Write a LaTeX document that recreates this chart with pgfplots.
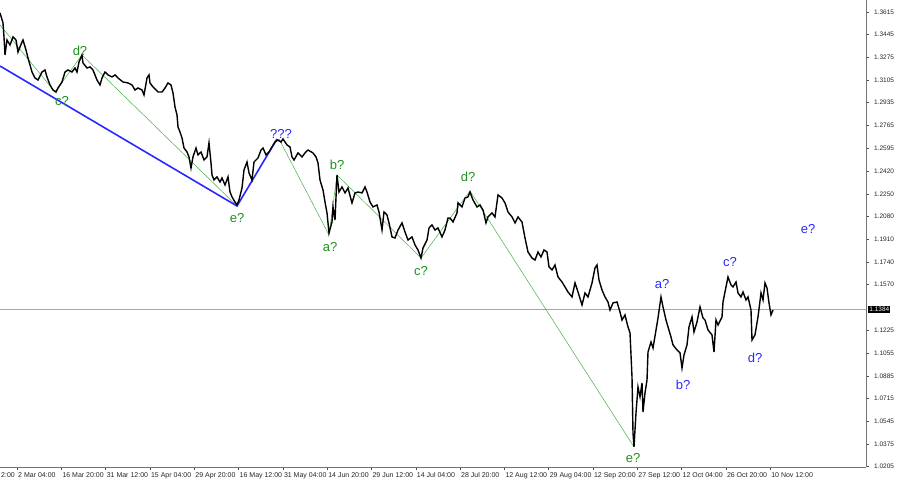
\documentclass[border=0pt]{standalone}
\usepackage{pgfplots}
\pgfplotsset{compat=1.18}
\usepackage{pgfplotstable}
\usepackage{fontspec}
\setmainfont{Liberation Sans}
\definecolor{wgreen}{RGB}{30,145,30}
\definecolor{lgreen}{RGB}{70,175,70}
\definecolor{wblue}{RGB}{40,40,255}
\pgfplotstableread{
x p
0 1.3608
3 1.3533
4 1.3428
5 1.3293
7 1.3405
10 1.3368
13 1.3428
16 1.3405
18 1.3315
22 1.3390
23 1.3405
26 1.3330
28 1.3270
30 1.3218
32 1.3165
35 1.3120
38 1.3105
42 1.3165
45 1.3180
47 1.3128
50 1.3068
53 1.3030
56 1.3015
58 1.3045
62 1.3090
65 1.3165
68 1.3180
72 1.3165
75 1.3195
77 1.3165
79 1.3240
82 1.3293
83 1.3233
87 1.3195
90 1.3203
93 1.3180
97 1.3105
100 1.3068
102 1.3120
105 1.3165
108 1.3143
112 1.3128
115 1.3143
118 1.3120
123 1.3090
128 1.3083
132 1.3068
135 1.3030
138 1.3045
142 1.3030
144 1.2993
147 1.3120
149 1.3143
150 1.3083
153 1.3053
158 1.3015
162 1.3015
165 1.3045
168 1.3083
171 1.3068
173 1.3008
175 1.2903
177 1.2843
178 1.2753
180 1.2715
182 1.2670
184 1.2595
187 1.2565
189 1.2528
191 1.2445
193 1.2528
196 1.2595
198 1.2543
201 1.2565
204 1.2505
207 1.2528
209 1.2633
211 1.2483
212 1.2393
214 1.2355
217 1.2378
220 1.2340
222 1.2370
225 1.2318
228 1.2378
230 1.2265
232 1.2228
235 1.2190
237 1.2168
239 1.2205
242 1.2295
244 1.2430
247 1.2490
249 1.2408
252 1.2355
254 1.2490
258 1.2520
261 1.2580
263 1.2595
266 1.2543
269 1.2565
272 1.2603
275 1.2640
278 1.2655
281 1.2640
283 1.2663
287 1.2618
290 1.2603
292 1.2528
294 1.2505
298 1.2558
302 1.2528
305 1.2558
308 1.2580
313 1.2558
316 1.2528
318 1.2483
320 1.2355
323 1.2280
325 1.2190
327 1.2108
329 1.1958
332 1.2040
333 1.2153
335 1.2055
337 1.2393
339 1.2265
342 1.2303
345 1.2258
348 1.2295
352 1.2183
355 1.2258
358 1.2265
362 1.2258
365 1.2303
367 1.2265
370 1.2190
373 1.2153
377 1.2168
379 1.2115
382 1.1980
384 1.2115
387 1.2093
389 1.2033
392 1.1928
395 1.1920
398 1.1980
402 1.2033
405 1.1965
408 1.1905
412 1.1928
415 1.1868
418 1.1830
421 1.1770
423 1.1845
427 1.1905
429 1.1995
432 1.2018
435 1.1980
438 1.1995
442 1.1928
445 1.1980
448 1.2070
450 1.2070
453 1.2040
457 1.2108
458 1.2183
462 1.2153
465 1.2220
468 1.2228
470 1.2265
473 1.2205
477 1.2153
480 1.2168
483 1.2130
486 1.2033
488 1.2078
492 1.2108
495 1.2078
498 1.2243
502 1.2220
505 1.2183
508 1.2115
512 1.2078
515 1.2033
518 1.2078
522 1.2040
525 1.1920
528 1.1815
532 1.1770
535 1.1755
538 1.1815
541 1.1778
544 1.1830
547 1.1815
549 1.1703
552 1.1680
555 1.1718
558 1.1628
562 1.1590
565 1.1553
568 1.1515
572 1.1478
575 1.1583
578 1.1515
582 1.1418
585 1.1508
588 1.1478
592 1.1583
595 1.1695
597 1.1718
599 1.1605
602 1.1530
605 1.1478
608 1.1440
610 1.1380
613 1.1433
617 1.1440
620 1.1365
622 1.1305
625 1.1343
628 1.1253
630 1.1208
632 1.0878
633 1.0458
634 1.0353
636 1.0608
638 1.0803
640 1.0728
642 1.0833
643 1.0615
645 1.0758
647 1.0855
648 1.1065
651 1.1140
653 1.1095
656 1.1230
658 1.1320
661 1.1478
663 1.1403
666 1.1305
668 1.1253
671 1.1178
673 1.1118
677 1.1080
680 1.1058
682 1.0945
684 1.1043
687 1.1118
689 1.1253
692 1.1328
694 1.1215
697 1.1290
700 1.1403
703 1.1320
705 1.1305
708 1.1230
712 1.1193
714 1.1065
716 1.1305
718 1.1268
722 1.1328
723 1.1440
726 1.1553
728 1.1628
731 1.1568
733 1.1553
736 1.1590
738 1.1508
741 1.1478
743 1.1515
746 1.1455
748 1.1478
751 1.1380
752 1.1155
755 1.1193
757 1.1283
758 1.1328
761 1.1508
763 1.1455
765 1.1583
767 1.1545
769 1.1433
771 1.1343
773 1.1380
}\price
\begin{document}
\begin{tikzpicture}
\begin{axis}[
  at={(0,0)}, anchor=south west,
  scale only axis, width=866pt, height=467pt,
  xmin=0, xmax=866, ymin=1.02025, ymax=1.3705,
  axis x line*=bottom, axis y line*=right,
  axis line style={draw=black!55, line width=0.8pt},
  x axis line style={-}, y axis line style={-},
  tick align=outside, major tick length=3pt,
  tick style={black!70, line width=0.4pt},
  xtick={17,61.3,105.6,149.9,194.2,238.5,282.8,327.1,371.4,415.7,460,504.3,548.6,592.9,637.2,681.5,725.8,770.1},
  xticklabels={2 Mar 04:00,16 Mar 20:00,31 Mar 12:00,15 Apr 04:00,29 Apr 20:00,16 May 12:00,31 May 04:00,14 Jun 20:00,29 Jun 12:00,14 Jul 04:00,28 Jul 20:00,12 Aug 12:00,29 Aug 04:00,12 Sep 20:00,27 Sep 12:00,12 Oct 04:00,26 Oct 20:00,10 Nov 12:00},
  xticklabel style={anchor=north west, xshift=0pt, yshift=-1.5pt, font=\fontsize{7}{8}\selectfont, text=black!85, inner sep=1pt},
  ytick={1.3615,1.3445,1.3275,1.3105,1.2935,1.2765,1.2595,1.2420,1.2250,1.2080,1.1910,1.1740,1.1570,1.1225,1.1055,1.0885,1.0715,1.0545,1.0375,1.0205},
  yticklabels={1.3615,1.3445,1.3275,1.3105,1.2935,1.2765,1.2595,1.2420,1.2250,1.2080,1.1910,1.1740,1.1570,1.1225,1.1055,1.0885,1.0715,1.0545,1.0375,1.0205},
  yticklabel style={anchor=west, xshift=4pt, font=\fontsize{6.5}{7.5}\selectfont, text=black!85, inner sep=1pt},
  clip=false,
]
\addplot[black!35, line width=0.4pt] coordinates {(0,1.1384) (866,1.1384)};
\addplot[lgreen, line width=0.5pt] coordinates {(0,1.3518) (55,1.3015) (82,1.3293) (237,1.2160)};
\addplot[lgreen, line width=0.5pt] coordinates {(279,1.2663) (329,1.1943) (337,1.2393) (421,1.1770) (470,1.2273) (634,1.0353)};
\addplot[wblue, line width=1.6pt] coordinates {(0,1.3210) (237,1.2160) (277,1.2663)};
\addplot[black, line width=1.4pt, line join=miter] table[x=x, y=p] {\price};
\node[fill=black, text=white, font=\fontsize{6.5}{7.5}\selectfont, inner sep=1.2pt, anchor=west] at (axis cs:868,1.1384) {1.1384};
\node[anchor=north west, font=\fontsize{7}{8}\selectfont, text=black!85, inner sep=1pt, yshift=-4.5pt] at (axis cs:0,1.02025) {2:00};
\begin{scope}[font=\fontsize{13}{15}\selectfont]
\node[text=wgreen] at (axis cs:80,1.3323) {d?};
\node[text=wgreen] at (axis cs:62,1.2948) {c?};
\node[text=wgreen] at (axis cs:237,1.2070) {e?};
\node[text=wblue] at (axis cs:281,1.2700) {???};
\node[text=wgreen] at (axis cs:337,1.2468) {b?};
\node[text=wgreen] at (axis cs:330,1.1853) {a?};
\node[text=wgreen] at (axis cs:421,1.1673) {c?};
\node[text=wgreen] at (axis cs:468,1.2378) {d?};
\node[text=wgreen] at (axis cs:633,1.0270) {e?};
\node[text=wblue] at (axis cs:662,1.1575) {a?};
\node[text=wblue] at (axis cs:683,1.0818) {b?};
\node[text=wblue] at (axis cs:730,1.1740) {c?};
\node[text=wblue] at (axis cs:755,1.1020) {d?};
\node[text=wblue] at (axis cs:808,1.1988) {e?};
\end{scope}
\end{axis}
\pgfresetboundingbox
\path[use as bounding box] (0,-18pt) rectangle (900pt,467pt);
\end{tikzpicture}
\end{document}
